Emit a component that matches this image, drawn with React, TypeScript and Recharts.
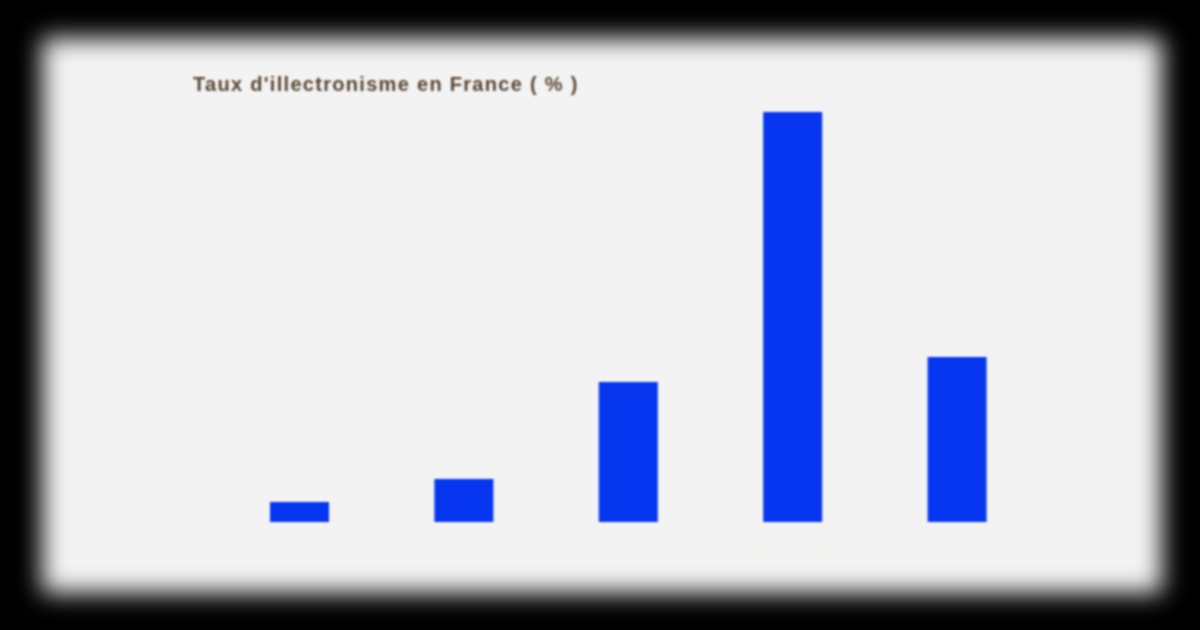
import React from "react";
import { BarChart, Bar, XAxis, YAxis } from "recharts";

// category labels are almost invisible in the source, guessed
const categories = ["15-29 ans", "30-44 ans", "45-59 ans", "60-74 ans", "75 ans +"];
const rates = [2, 4.3, 14, 41, 16.5];

const data = categories.map((name, i) => ({ name, rate: rates[i] }));

const App = () => {
  return (
    <div
      style={{
        position: "fixed",
        left: 0,
        top: 0,
        width: 1200,
        height: 630,
        background: "#000",
        overflow: "hidden",
      }}
    >
      <div
        style={{
          position: "absolute",
          left: 42,
          top: 38,
          width: 1120,
          height: 555,
          background: "#f3f3f3",
          filter: "blur(12px)",
        }}
      />
      <div style={{ position: "absolute", left: 0, top: 0, filter: "blur(1.2px)" }}>
        <div
          style={{
            position: "absolute",
            left: 193,
            top: 73,
            fontFamily: "Liberation Sans, Arial, sans-serif",
            fontSize: 20,
            fontWeight: 600,
            letterSpacing: 1.3,
            color: "#574531",
            whiteSpace: "nowrap",
          }}
        >
          Taux d'illectronisme en France ( % )
        </div>
        <BarChart
          width={1200}
          height={630}
          data={data}
          margin={{ top: 112, right: 161, bottom: 78, left: 217 }}
        >
          <XAxis
            dataKey="name"
            axisLine={false}
            tickLine={false}
            height={30}
            dy={10}
            tick={{ fill: "#f1f1e9", fontSize: 14, fontFamily: "Liberation Sans, Arial, sans-serif" }}
          />
          <YAxis hide domain={[0, 41]} />
          <Bar dataKey="rate" fill="#0636ef" barSize={59} isAnimationActive={false} />
        </BarChart>
      </div>
    </div>
  );
};

export default App;
